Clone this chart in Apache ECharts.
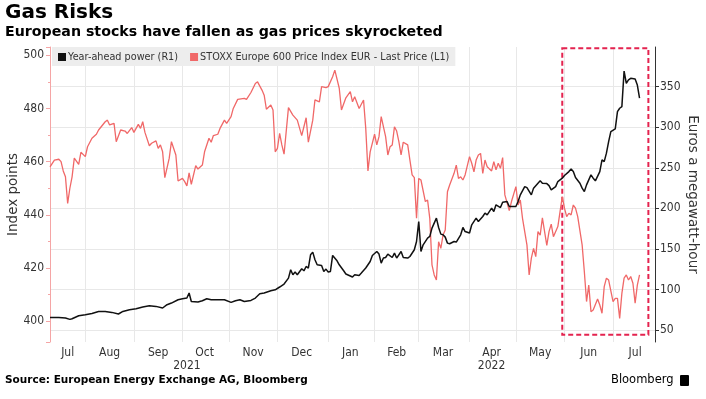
<!DOCTYPE html>
<html>
<head>
<meta charset="UTF-8">
<title>Gas Risks</title>
<script src="https://cdn.jsdelivr.net/npm/echarts@6/dist/echarts.min.js"></script>
<style>
  body{margin:0;background:#fff}
</style>
</head>
<body>
<div id="main" style="width:706px;height:399px"></div>
<script type="text/javascript">
	// x axis = trading days (weekdays) from 9 Jul 2021 to 28 Jul 2022
	var firstDay = [2021, 6, 9];
	var lastDay = [2022, 6, 28];
	var monthNames = ['Jan','Feb','Mar','Apr','May','Jun','Jul','Aug','Sep','Oct','Nov','Dec'];

	// STOXX Europe 600 (left axis), sampled trading-day index -> index points
	var stoxxDay = [0,2,4,5,6,7,8,9,10,11,13,14,16,17,19,21,22,25,26,27,29,30,32,34,35,37,38,40,41,42,43,45,46,48,49,50,51,52,54,55,57,58,60,61,62,63,64,66,67,69,70,72,73,74,76,77,79,80,82,83,85,88,89,91,93,94,96,97,98,100,101,102,103,104,105,106,108,110,112,114,116,117,119,120,122,123,125,126,128,129,131,132,134,136,137,138,140,142,143,144,145,147,148,149,150,152,153,154,155,156,157,158,159,160,162,163,164,165,166,167,168,170,171,172,173,174,175,176,177,178,179,180,181,183,184,185,186,187,188,190,191,192,193,194,195,196,197,198,200,201,202,203,204,205,206,208,209,211,212,213,214,216,217,218,219,220,221,222,223,225,226,227,228,230,231,232,233,234,235,236,237,238,239,241,242,243,244,245,246,248,249,250,251,252,253,255,256,257,258,259,260,261,262,263,264,265,266,267];
	var stoxxVal = [458,460.6,460.9,460,456.5,454.3,444.3,450,454.3,461.3,459,463.5,461.9,465.6,468.8,470.3,471.9,475,475.6,473.8,474.4,467.5,471.9,471.5,470.6,472.8,471,474,472.5,475,471,466,466.9,467.8,465,466.3,463.7,454,461.3,467.5,462.5,452.7,453.7,452.5,450.9,455.8,451.5,458.5,457.2,458.7,463.7,468.8,467.3,469.8,470.3,472.5,475.6,474.4,476.9,480,483.4,483.8,483.4,486,489.4,490,486.9,485,479.7,481.3,479.4,463.7,465,470.6,466.3,462.8,480.3,477.5,475.6,469.8,476.5,467.3,475.6,483.2,482.5,488.2,487.8,488.2,491.9,494.4,487.6,479.4,484,486.3,482.5,484.4,480,483.2,472.5,456.5,463.7,470.3,466.3,469.4,476.9,469.4,462.5,465.6,466.3,473.1,471.5,467.5,462.5,467.3,466.3,460.6,455,454,438.7,453.7,453.1,445,445.6,438.7,421.2,417.4,415.5,429.9,427.4,432.4,434.3,448.7,451.2,455.6,458.7,453.7,454.3,453.1,455,461.9,459.4,456.2,460.6,462.5,463.1,455.6,460.6,458.1,456.5,460,456.9,459.4,457.5,461.5,447.5,441.6,445,450.6,443.7,445.6,438.7,428.7,417.4,423.7,427.4,424.3,433.7,432.4,438.9,428.5,433.7,436.5,431.8,435.6,441.2,446.8,442.5,439.3,440.6,440,443.7,442.5,439.3,428.7,418.6,407.4,413.6,403.6,404.2,408.4,406.1,403,413,416.2,415.5,407.4,408.6,408.6,401.1,410.5,416.2,417.4,415.5,416.8,414.3,406.8,413.6,417.4];

	// Year-ahead power (right axis), trading-day index -> euros a MWh
	var powerDay = [0,4,7,9,10,13,16,19,22,25,28,31,33,36,39,42,45,48,51,53,55,58,60,62,63,64,67,69,71,73,76,79,82,84,86,88,91,93,95,97,100,102,104,106,108,109,110,111,112,114,115,116,117,118,119,120,121,123,124,125,126,127,128,130,131,133,134,137,138,140,141,143,145,146,148,149,150,151,152,153,155,156,157,159,160,162,163,165,166,167,168,169,171,172,173,175,176,177,178,179,180,181,183,184,186,187,188,190,191,193,194,196,197,198,200,201,202,204,205,207,208,210,211,212,213,215,216,218,219,221,222,223,225,226,227,229,230,232,233,235,236,237,238,240,241,242,243,245,246,247,249,250,251,252,253,254,256,257,258,259,260,261,262,263,265,266,267];
	var powerVal = [65.5,65.3,64.8,63.1,63.9,67.6,68.8,70.4,72.9,72.9,71.7,69.7,72.9,75,76.2,78.3,79.9,79.1,77.1,81.2,83.2,87.3,88.5,89.4,95.6,85.2,84.5,86.1,88.5,87.3,87.3,87.3,84,86.1,87.3,85.2,86.5,89.4,94.7,95.6,98.4,99.6,103,106.7,114,124.3,118.1,121.4,118.1,125.5,123,128.3,126.4,142.7,146,136.6,130.4,129.6,122.2,125.1,121.4,122.2,141.9,135.3,130.4,123,119,115.3,118.1,117.2,120.2,126.4,134.5,141.9,146.8,143.6,132.5,138.7,139.4,143.6,139.4,144.8,138.7,146.8,139.4,138.7,140.6,148.9,159.1,183.7,146.8,155,163.3,165.3,175.6,187.9,176.4,168.2,167.4,164.5,157.1,156.3,159.1,158.4,167.4,176.4,171.4,169.5,179.7,187.9,183.7,189.9,194.1,192,200.2,196.1,204.3,201,207.6,208.4,202.2,202.2,202.2,208.4,216.6,226.8,225.6,216.6,224.9,231,233.9,231,230.5,228,222.8,226.8,233,237.2,240.4,245.3,248.6,245.3,237.9,231,224.9,220.7,228.9,241.2,237.2,233.9,245.3,259.7,257.6,268,282.3,294.6,297.9,319.2,323.4,325.4,369.3,354.2,358.3,360.3,359.5,352,336];

	// dashed highlight box: trading-day index range and euro range
	var boxDays = [232, 271];
	var boxMwh = [44, 397.5];

	var days = [];
	for (var t = Date.UTC(firstDay[0], firstDay[1], firstDay[2]); t <= Date.UTC(lastDay[0], lastDay[1], lastDay[2]); t += 864e5) {
		var wd = new Date(t).getUTCDay();
		if (wd !== 0 && wd !== 6) days.push(new Date(t).toISOString().slice(0, 10));
	}

	// month gridlines at first trading day, labels in middle of each visible month
	var monthStart = {}, monthMid = {}, yearMid = {};
	var groups = {}, years = {};
	days.forEach(function (d, i) {
		var m = d.slice(0, 7), y = d.slice(0, 4);
		(groups[m] = groups[m] || []).push(i);
		(years[y] = years[y] || []).push(i);
	});
	Object.keys(groups).forEach(function (m) {
		var g = groups[m];
		if (g[0] > 0) monthStart[g[0]] = true;
		monthMid[Math.floor((g[0] + g[g.length - 1] + 1) / 2)] = true;
	});
	Object.keys(years).forEach(function (y) {
		var g = years[y];
		yearMid[Math.floor((g[0] + g[g.length - 1]) / 2)] = true;
	});

	function pairs(dayIdx, vals) {
		return dayIdx.map(function (d, i) { return [days[d], vals[i]]; });
	}

	var lab = {color: '#333', fontSize: 12, fontFamily: 'DejaVu Sans Condensed, DejaVu Sans'};

	var myEcharts = echarts.init(document.getElementById('main'));
	var option = {
		animation: false,
		textStyle: {fontFamily: 'DejaVu Sans'},
		grid: {left: 50, right: 51, top: 47, bottom: 57, outerBoundsMode: 'none'},
		legend: {
			left: 52, top: 47,
			backgroundColor: '#ededed',
			padding: [5, 6, 4, 6],
			itemWidth: 8, itemHeight: 8, itemGap: 12,
			icon: 'rect',
			textStyle: {fontSize: 9.7, color: '#333', padding: [0, 0, 0, -3]},
			data: ['Year-ahead power (R1)', 'STOXX Europe 600 Price Index EUR - Last Price (L1)']
		},
		xAxis: [{
			type: 'category',
			data: days,
			boundaryGap: false,
			axisLine: {show: false},
			axisTick: {show: false},
			axisLabel: {
				interval: function (i) { return !!monthMid[i]; },
				formatter: function (v) { return monthNames[+v.slice(5, 7) - 1]; },
				margin: 5,
				color: lab.color, fontSize: lab.fontSize, fontFamily: lab.fontFamily
			},
			splitLine: {
				show: true,
				interval: function (i) { return !!monthStart[i]; },
				lineStyle: {color: '#e8e8e8', width: 1}
			}
		}, {
			type: 'category',
			data: days,
			boundaryGap: false,
			position: 'bottom',
			offset: 13,
			axisLine: {show: false},
			axisTick: {show: false},
			splitLine: {show: false},
			axisLabel: {
				interval: function (i) { return !!yearMid[i]; },
				formatter: function (v) { return v.slice(0, 4); },
				margin: 5,
				color: lab.color, fontSize: lab.fontSize, fontFamily: lab.fontFamily
			}
		}],
		yAxis: [{
			type: 'value',
			position: 'left',
			min: 392.2, max: 503.1,
			splitNumber: 5,
			name: 'Index points',
			nameLocation: 'middle',
			nameMoveOverlap: false,
			nameGap: 30,
			nameTextStyle: {fontSize: 13.5, color: '#333'},
			axisLine: {show: true, lineStyle: {color: '#f5a5a5'}},
			axisTick: {show: true, length: 4, lineStyle: {color: '#f5a5a5'}},
			minorTick: {show: true, splitNumber: 2, length: 2, lineStyle: {color: '#f5a5a5'}},
			splitLine: {show: false},
			axisLabel: {showMinLabel: false, showMaxLabel: false, margin: 6,
				color: lab.color, fontSize: lab.fontSize, fontFamily: lab.fontFamily}
		}, {
			type: 'value',
			position: 'right',
			min: 35.2, max: 398.9,
			splitNumber: 7,
			name: 'Euros a megawatt-hour',
			nameLocation: 'middle',
			nameMoveOverlap: false,
			nameRotate: -90,
			nameGap: 30,
			nameTextStyle: {fontSize: 13.5, color: '#333'},
			axisLine: {show: true, lineStyle: {color: '#333'}},
			axisTick: {show: true, length: 4, lineStyle: {color: '#333'}},
			splitLine: {show: true, showMinLine: false, showMaxLine: false, lineStyle: {color: '#e8e8e8'}},
			axisLabel: {showMinLabel: false, showMaxLabel: false, margin: 5,
				color: lab.color, fontSize: lab.fontSize, fontFamily: lab.fontFamily}
		}],
		series: [{
			name: 'STOXX Europe 600 Price Index EUR - Last Price (L1)',
			type: 'line',
			yAxisIndex: 0,
			showSymbol: false,
			color: '#f06868',
			lineStyle: {width: 1.3},
			data: pairs(stoxxDay, stoxxVal)
		}, {
			name: 'Year-ahead power (R1)',
			type: 'line',
			yAxisIndex: 1,
			showSymbol: false,
			color: '#111',
			lineStyle: {width: 1.5},
			data: pairs(powerDay, powerVal),
			markArea: {
				silent: true,
				itemStyle: {color: 'rgba(0,0,0,0)', borderColor: '#e4234f', borderWidth: 2, borderType: [5, 3]},
				data: [[{xAxis: days[boxDays[0]], yAxis: boxMwh[1]}, {xAxis: days[boxDays[1]], yAxis: boxMwh[0]}]]
			}
		}],
		graphic: [
			{type: 'text', left: 5, top: 3, style: {text: 'Gas Risks', font: 'bold 20px DejaVu Sans', fill: '#000'}},
			{type: 'text', left: 5, top: 25, style: {text: 'European stocks have fallen as gas prices skyrocketed', font: 'bold 14.2px DejaVu Sans', fill: '#000'}},
			{type: 'text', left: 5, top: 375, style: {text: 'Source: European Energy Exchange AG, Bloomberg', font: 'bold 10.5px DejaVu Sans', fill: '#000'}},
			{type: 'text', left: 611, top: 374, style: {text: 'Bloomberg', font: '11.5px DejaVu Sans', fill: '#000'}},
			{type: 'rect', left: 680, top: 375, shape: {width: 9, height: 11, r: 1}, style: {fill: '#000'}}
		]
	};
	myEcharts.setOption(option);
</script>
</body>
</html>
